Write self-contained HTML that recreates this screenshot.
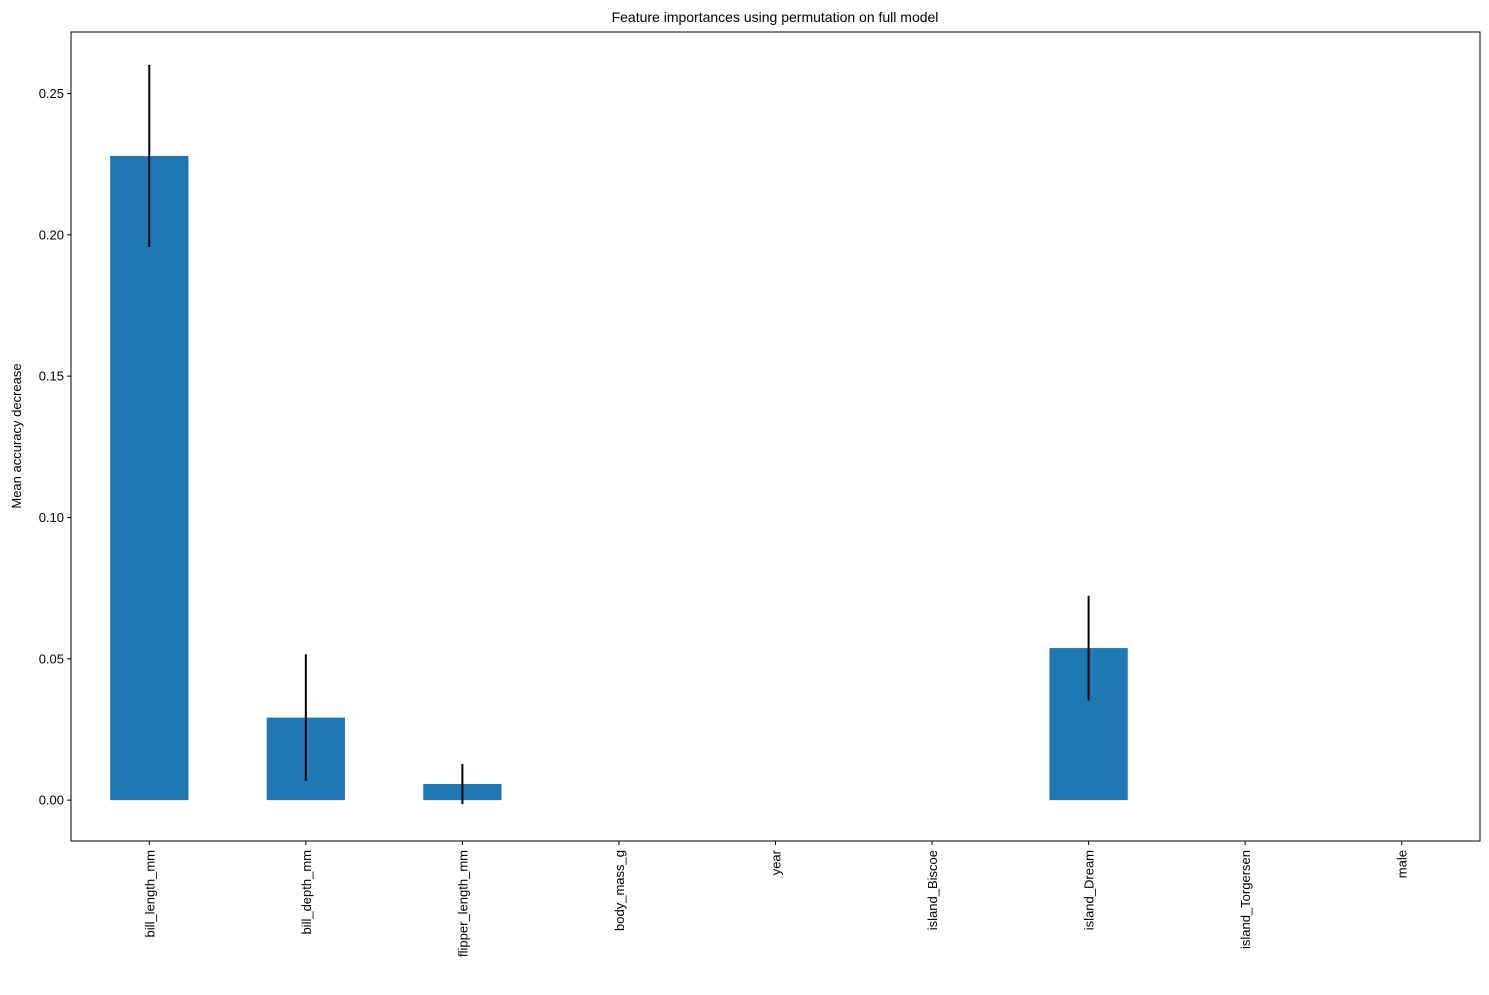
<!DOCTYPE html>
<html><head><meta charset="utf-8">
<style>
body{margin:0;background:#fff;font-family:"Liberation Sans",sans-serif;}
svg text{font-family:"Liberation Sans",sans-serif;fill:#000;}
</style></head>
<body>
<svg id="chart" width="1489" height="990" xmlns="http://www.w3.org/2000/svg">
<text x="775" y="22" font-size="14" text-anchor="middle">Feature importances using permutation on full model</text>
<text transform="translate(21,436) rotate(-90)" font-size="13" text-anchor="middle">Mean accuracy decrease</text>
<g id="plot"></g>
<rect x="71" y="32" width="1409" height="809" fill="none" stroke="#000" stroke-width="1"/>
</svg>
<script>
const categories=["bill_length_mm","bill_depth_mm","flipper_length_mm","body_mass_g","year","island_Biscoe","island_Dream","island_Torgersen","male"];
const values=[0.2279,0.0292,0.0057,0,0,0,0.0538,0,0];
const errors=[0.0322,0.0224,0.0071,0,0,0,0.0185,0,0];
const yTicks=[0,0.05,0.10,0.15,0.20,0.25];
const yTickLabels=["0.00","0.05","0.10","0.15","0.20","0.25"];

const L=71,R=1480,T=32,B=841;
const yMin=-0.01446,yMax=0.27175;
function y(v){return B-(v-yMin)/(yMax-yMin)*(B-T);}
function x(i){return L+(i+0.5)/categories.length*(R-L);}
const bw=0.5*(R-L)/categories.length;
const g=document.getElementById('plot');
const NS="http://www.w3.org/2000/svg";
function mk(t,a){const e=document.createElementNS(NS,t);for(const k in a)e.setAttribute(k,a[k]);g.appendChild(e);return e;}

yTicks.forEach((v,i)=>{
  const tk=mk('line',{x1:L-4,x2:L,y1:y(v),y2:y(v),stroke:'#000'});
  
  
  const t=mk('text',{x:L-7,y:y(v)+4.5,'font-size':13,'text-anchor':'end'});
  t.textContent=yTickLabels[i];
  
  
});
categories.forEach((c,i)=>{
  const cx=x(i);
  const bar=mk('rect',{x:cx-bw/2,y:Math.min(y(values[i]),y(0)),width:bw,height:Math.abs(y(0)-y(values[i])),fill:'#1f77b4'});
  
  
  if(errors[i]>0){
    const e=mk('line',{x1:cx,x2:cx,y1:y(values[i]+errors[i]),y2:y(values[i]-errors[i]),stroke:'#000','stroke-width':2});
    
    
  }
  const tk=mk('line',{x1:cx,x2:cx,y1:B,y2:B+4,stroke:'#000'});
  
  
  const t=mk('text',{transform:`translate(${cx+5},${B+9}) rotate(-90)`,'font-size':13,'text-anchor':'end'});
  t.textContent=c;
  
  
});
</script>
</body></html>
